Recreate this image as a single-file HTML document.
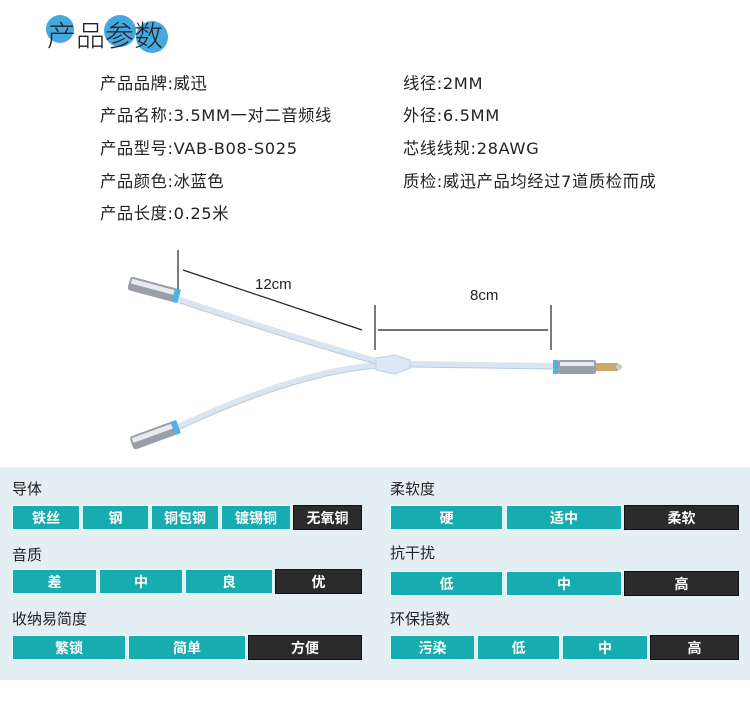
<!DOCTYPE html>
<html><head><meta charset="utf-8"><style>
*{margin:0;padding:0;box-sizing:border-box}
body{width:750px;height:702px;background:#fff;position:relative;overflow:hidden;font-family:"Liberation Sans","Noto Sans CJK SC",sans-serif;color:#222}
.t{position:absolute;font-family:"DejaVu Sans","Noto Sans CJK SC",sans-serif;font-size:16.3px;letter-spacing:0.6px;line-height:18px;white-space:nowrap;color:#222}
.panel{position:absolute;left:0;top:467px;width:750px;height:213px;background:#e4eff3}
.lbl{position:absolute;font-size:15px;line-height:18px;color:#222}
.c{position:absolute;height:25px;background:#17acb0;color:#fff;font-size:14px;line-height:25px;text-align:center;font-weight:bold;border:1px solid #dff;}
.d{background:#2b2b2b;border-color:#111}
</style></head><body>
<svg style="position:absolute;left:0;top:0" width="750" height="460">
<circle cx="60" cy="29" r="14" fill="#45a9e0"/>
<circle cx="120" cy="31" r="16" fill="#45a9e0"/>
<circle cx="152" cy="37" r="16" fill="#45a9e0"/>
<text x="47" y="46" font-size="29" font-family="Noto Sans CJK SC,sans-serif" fill="#222" font-weight="300">产品参数</text>
<line x1="178" y1="250" x2="178" y2="290" stroke="#222" stroke-width="1.2"/>
<line x1="183" y1="270" x2="362" y2="330" stroke="#222" stroke-width="1.2"/>
<line x1="375" y1="305" x2="375" y2="350" stroke="#222" stroke-width="1.2"/>
<line x1="378" y1="330" x2="548" y2="330" stroke="#222" stroke-width="1.2"/>
<line x1="551" y1="305" x2="551" y2="350" stroke="#222" stroke-width="1.2"/>
<text x="255" y="289" font-size="15" fill="#222" font-family="Liberation Sans,sans-serif">12cm</text>
<text x="470" y="300" font-size="15" fill="#222" font-family="Liberation Sans,sans-serif">8cm</text>
<g stroke="#d9e6f2" stroke-width="6" fill="none" stroke-linecap="round">
<path d="M180 300 Q300 340 380 362"/>
<path d="M178 427 Q300 370 380 365"/>
<path d="M410 364 L552 366"/>
</g>
<g stroke="#bccbd9" stroke-width="1" fill="none">
<path d="M180 303 Q300 343 380 365"/>
<path d="M178 430 Q300 373 380 368"/>
<path d="M410 367 L552 369"/>
</g>
<path d="M376 358 L395 355 L410 360 L410 368 L395 374 L376 370Z" fill="#dce8f3" stroke="#c2d0de"/>
<g transform="rotate(15 155 290)">
<rect x="128" y="283" width="48" height="14" rx="3" fill="#9a9ea6"/>
<rect x="130" y="285" width="44" height="5" fill="#e8eaee"/>
<rect x="174" y="283" width="6" height="14" fill="#4fb3e6"/>
</g>
<g transform="rotate(-20 155 435)">
<rect x="130" y="428" width="46" height="14" rx="3" fill="#9a9ea6"/>
<rect x="132" y="430" width="42" height="5" fill="#e8eaee"/>
<rect x="174" y="428" width="6" height="14" fill="#4fb3e6"/>
</g>
<rect x="553" y="360" width="5" height="14" fill="#4fb3e6"/>
<rect x="558" y="360" width="38" height="14" rx="2" fill="#9a9ea6"/>
<rect x="560" y="362" width="34" height="4" fill="#e8eaee"/>
<rect x="596" y="363" width="22" height="8" fill="#c9a86a"/>
<circle cx="619" cy="367" r="3" fill="#ccc"/>
</svg>
<div class="t" style="left:100px;top:75px">产品品牌:威迅</div>
<div class="t" style="left:100px;top:107px">产品名称:3.5MM一对二音频线</div>
<div class="t" style="left:100px;top:140px">产品型号:VAB-B08-S025</div>
<div class="t" style="left:100px;top:173px">产品颜色:冰蓝色</div>
<div class="t" style="left:100px;top:205px">产品长度:0.25米</div>
<div class="t" style="left:403px;top:75px">线径:2MM</div>
<div class="t" style="left:403px;top:107px">外径:6.5MM</div>
<div class="t" style="left:403px;top:140px">芯线线规:28AWG</div>
<div class="t" style="left:403px;top:173px">质检:威迅产品均经过7道质检而成</div>
<div class="panel"></div>
<div class="lbl" style="left:12px;top:481px">导体</div>
<div class="c" style="left:12px;top:505px;width:68px">铁丝</div>
<div class="c" style="left:82px;top:505px;width:67px">钢</div>
<div class="c" style="left:151px;top:505px;width:68px">铜包钢</div>
<div class="c" style="left:221px;top:505px;width:70px">镀锡铜</div>
<div class="c d" style="left:293px;top:505px;width:69px">无氧铜</div>
<div class="lbl" style="left:12px;top:547px">音质</div>
<div class="c" style="left:12px;top:569px;width:85px">差</div>
<div class="c" style="left:99px;top:569px;width:84px">中</div>
<div class="c" style="left:185px;top:569px;width:88px">良</div>
<div class="c d" style="left:275px;top:569px;width:87px">优</div>
<div class="lbl" style="left:12px;top:611px">收纳易简度</div>
<div class="c" style="left:12px;top:635px;width:114px">繁锁</div>
<div class="c" style="left:128px;top:635px;width:118px">简单</div>
<div class="c d" style="left:248px;top:635px;width:114px">方便</div>
<div class="lbl" style="left:390px;top:481px">柔软度</div>
<div class="c" style="left:390px;top:505px;width:113px">硬</div>
<div class="c" style="left:506px;top:505px;width:116px">适中</div>
<div class="c d" style="left:624px;top:505px;width:115px">柔软</div>
<div class="lbl" style="left:390px;top:545px">抗干扰</div>
<div class="c" style="left:390px;top:571px;width:113px">低</div>
<div class="c" style="left:506px;top:571px;width:116px">中</div>
<div class="c d" style="left:624px;top:571px;width:115px">高</div>
<div class="lbl" style="left:390px;top:611px">环保指数</div>
<div class="c" style="left:390px;top:635px;width:85px">污染</div>
<div class="c" style="left:477px;top:635px;width:83px">低</div>
<div class="c" style="left:562px;top:635px;width:86px">中</div>
<div class="c d" style="left:650px;top:635px;width:89px">高</div>
</body></html>
